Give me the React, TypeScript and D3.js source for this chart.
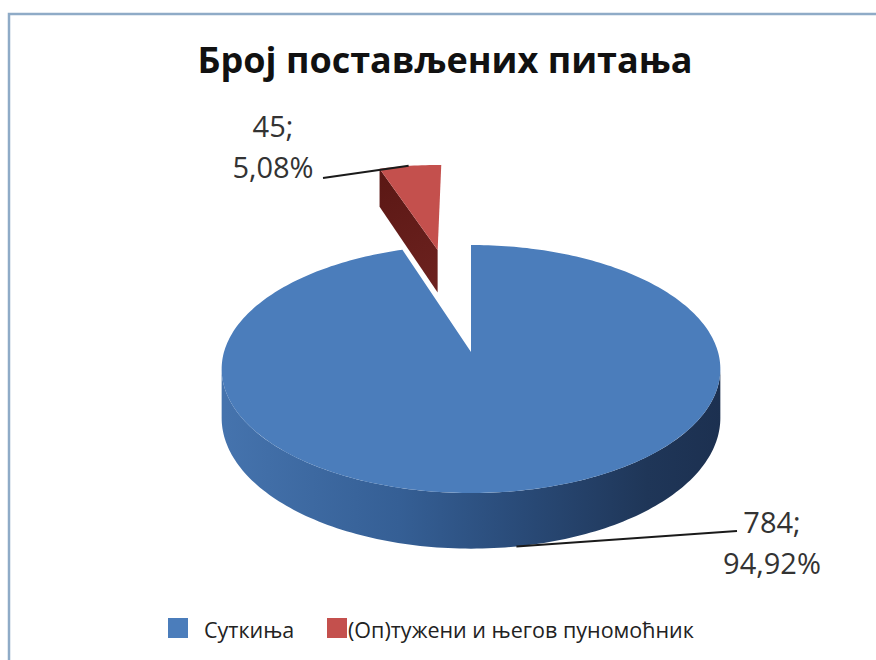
import React from "react";
import * as d3 from "d3";

const categories = ["Суткиња", "(Оп)тужени и његов пуномоћник"];
const counts = [784, 45];
const shares = [94.92, 5.08];
const shareLabels = ["94,92%", "5,08%"];
const title = "Број постављених питања";

const W = 876;
const H = 660;
const FONT = "'Open Sans', 'Noto Sans', sans-serif";

// pseudo-3D projection settings
const CX = 471, CY = 352, SX = 247, SY = 121.7, P = 0.137, DEPTH = 48;
const EXPLODE = [0, 0.96];

const topColors = ["#4b7dbb", "#c4504d"];
const sideDark = ["#203a60", "#611b18"];

function proj(u: number, v: number, z: number): [number, number] {
  const w = 1 + P * v;
  return [CX + (SX * u) / w, CY - (SY * v) / w + (z * DEPTH) / w];
}

function arcPts(ox: number, oy: number, a0: number, a1: number, z: number) {
  const n = Math.max(4, Math.ceil(Math.abs(a1 - a0) / 0.02));
  const pts: [number, number][] = [];
  for (let i = 0; i <= n; i++) {
    const a = a0 + ((a1 - a0) * i) / n;
    pts.push(proj(ox + Math.sin(a), oy + Math.cos(a), z));
  }
  return pts;
}

const line = d3.line<[number, number]>();

export default function App() {
  const pie = d3.pie<number>().sort(null).startAngle(0).endAngle(2 * Math.PI);
  const arcs = pie(shares);

  const slices = arcs.map((a, i) => {
    const mid = (a.startAngle + a.endAngle) / 2;
    const ox = EXPLODE[i] * Math.sin(mid);
    const oy = EXPLODE[i] * Math.cos(mid);
    return { a, i, mid, ox, oy };
  });

  const tangent = Math.acos(-P); // where front wall silhouette is
  const tA = tangent, tB = 2 * Math.PI - tangent;

  const renderSlice = (s: typeof slices[number]) => {
    const { a, i, ox, oy } = s;
    const parts: JSX.Element[] = [];
    // front wall
    const w0 = Math.max(a.startAngle, tA);
    const w1 = Math.min(a.endAngle, tB);
    if (w1 > w0) {
      const top = arcPts(ox, oy, w0, w1, 0);
      const bot = arcPts(ox, oy, w0, w1, 1).reverse();
      parts.push(
        <path key={`wall${i}`} d={line([...top, ...bot])! + "Z"} fill={i === 0 ? "url(#wallGrad)" : sideDark[i]} />
      );
    }
    // radial face at start angle (visible for exploded small slice)
    if (i === 1) {
      const ang = a.startAngle;
      const pts: [number, number][] = [
        proj(ox, oy, 0),
        proj(ox + Math.sin(ang), oy + Math.cos(ang), 0),
        proj(ox + Math.sin(ang), oy + Math.cos(ang), 1),
        proj(ox, oy, 1),
      ];
      parts.push(<path key={`cut${i}`} d={line(pts)! + "Z"} fill="url(#cutGrad)" />);
    }
    // top face
    const rim = arcPts(ox, oy, a.startAngle, a.endAngle, 0);
    const apex = proj(ox, oy, 0);
    parts.push(<path key={`top${i}`} d={line([apex, ...rim])! + "Z"} fill={topColors[i]} />);
    return <g key={`s${i}`}>{parts}</g>;
  };

  // label anchors
  const red = slices[1];
  const redAnchor = proj(red.ox + Math.sin(red.mid) * 1.05, red.oy + Math.cos(red.mid), 0);
  const blue = slices[0];
  const blueAnchor = proj(blue.ox + Math.sin(blue.mid), blue.oy + Math.cos(blue.mid), 1);

  const labelPos = [
    { x: 772, y1: 533, y2: 574, lx: 737, ly: 531, anchor: blueAnchor },
    { x: 273, y1: 137, y2: 178, lx: 323, ly: 178, anchor: redAnchor },
  ];

  return (
    <svg width={W} height={H} style={{ position: "absolute", left: 0, top: 0, background: "#fff" }}>
      <defs>
        <linearGradient id="wallGrad" gradientUnits="userSpaceOnUse" x1={225} y1={0} x2={722} y2={0}>
          <stop offset="0" stopColor="#4573ad" />
          <stop offset="0.35" stopColor="#355f95" />
          <stop offset="0.6" stopColor="#294a77" />
          <stop offset="0.85" stopColor="#1f3658" />
          <stop offset="1" stopColor="#1c3050" />
        </linearGradient>
        <linearGradient id="cutGrad" gradientUnits="userSpaceOnUse" x1={372} y1={170} x2={437} y2={300}>
          <stop offset="0" stopColor="#5a1714" />
          <stop offset="1" stopColor="#6e2320" />
        </linearGradient>
      </defs>
      <rect x={0} y={0} width={W} height={H} fill="#fff" />
      <path d={`M9,${H} V14 H${W}`} fill="none" stroke="#8fabc7" strokeWidth={2.5} />
      <text x={445} y={73} textAnchor="middle" fontFamily={FONT} fontWeight={700} fontSize={36} fill="#111">
        {title}
      </text>

      {/* draw farther (exploded) slice first */}
      {renderSlice(slices[1])}
      {renderSlice(slices[0])}

      {labelPos.map((l, i) => (
        <g key={`lab${i}`}>
          <path d={line([l.anchor, [l.lx, l.ly]])!} fill="none" stroke="#1a1a1a" strokeWidth={2} />
          <text x={l.x} y={l.y1} textAnchor="middle" fontFamily={FONT} fontSize={29} fill="#333">
            {`${counts[i]};`}
          </text>
          <text x={l.x} y={l.y2} textAnchor="middle" fontFamily={FONT} fontSize={29} fill="#333">
            {shareLabels[i]}
          </text>
        </g>
      ))}

      {categories.map((c, i) => {
        const x = i === 0 ? 168 : 327;
        return (
          <g key={`leg${i}`}>
            <rect x={x} y={618} width={20} height={20} fill={topColors[i]} />
            <text x={x + (i === 0 ? 36 : 21)} y={638} fontFamily={FONT} fontSize={21.5} fill="#222">
              {c}
            </text>
          </g>
        );
      })}
    </svg>
  );
}
